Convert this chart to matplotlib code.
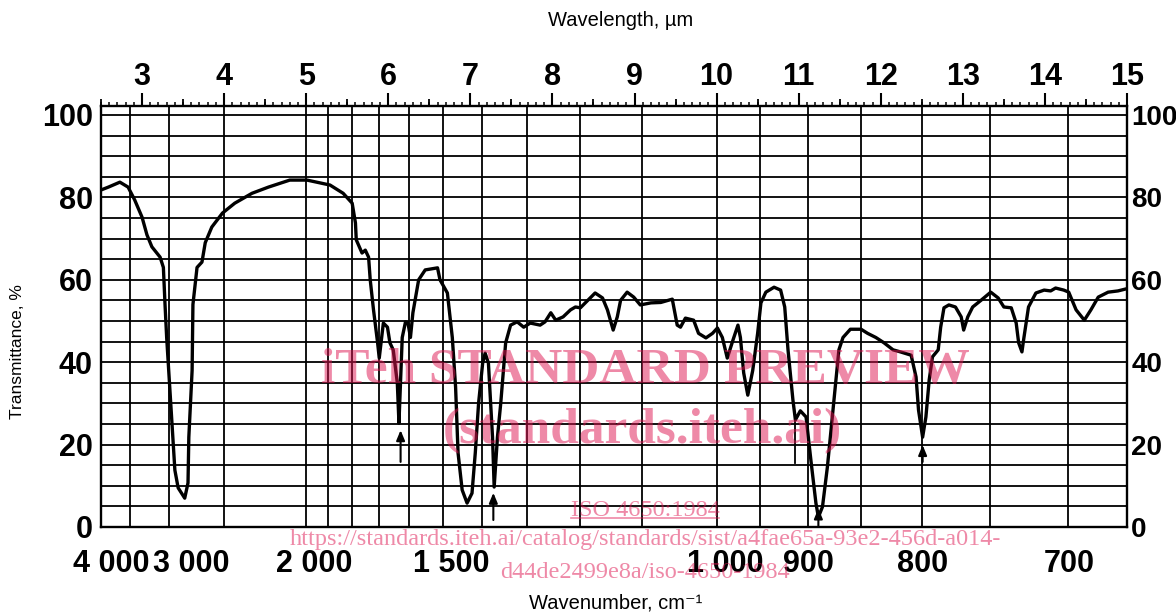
import matplotlib
matplotlib.use("Agg")
import matplotlib.pyplot as plt
from matplotlib.ticker import FixedLocator, MultipleLocator, NullFormatter
from matplotlib.transforms import ScaledTranslation
from matplotlib.lines import Line2D

# ---------------- data ----------------
wavelength_um = [
    2.50, 2.59, 2.73, 2.83, 2.91, 3.00, 3.06, 3.12, 3.22, 3.26, 3.28, 3.30, 3.33, 3.37,
    3.40, 3.44, 3.52, 3.56, 3.57, 3.61, 3.62, 3.67, 3.73, 3.77, 3.85, 3.98, 4.13, 4.34,
    4.54, 4.80, 5.01, 5.29, 5.45, 5.56, 5.60, 5.61, 5.68, 5.72, 5.76, 5.78, 5.82, 5.87,
    5.89, 5.94, 5.99, 6.02, 6.06, 6.11, 6.13, 6.17, 6.21, 6.24, 6.27, 6.30, 6.37, 6.45,
    6.60, 6.63, 6.72, 6.78, 6.82, 6.85, 6.90, 6.96, 7.02, 7.06, 7.10, 7.15, 7.18, 7.22,
    7.27, 7.29, 7.33, 7.37, 7.43, 7.49, 7.57, 7.65, 7.73, 7.85, 7.91, 7.98, 8.04, 8.13,
    8.22, 8.28, 8.34, 8.43, 8.52, 8.61, 8.67, 8.74, 8.79, 8.83, 8.91, 8.99, 9.07, 9.20,
    9.32, 9.46, 9.52, 9.56, 9.62, 9.72, 9.78, 9.87, 9.95, 10.01, 10.07, 10.13, 10.20,
    10.26, 10.29, 10.33, 10.38, 10.44, 10.50, 10.54, 10.60, 10.70, 10.78, 10.83, 10.87,
    10.93, 10.96, 11.02, 11.09, 11.15, 11.21, 11.24, 11.29, 11.35, 11.41, 11.45, 11.49,
    11.54, 11.63, 11.76, 11.84, 11.94, 12.04, 12.15, 12.24, 12.37, 12.43, 12.46, 12.51,
    12.55, 12.59, 12.63, 12.70, 12.73, 12.77, 12.83, 12.91, 12.98, 13.01, 13.06, 13.12,
    13.22, 13.34, 13.43, 13.50, 13.59, 13.65, 13.68, 13.72, 13.74, 13.80, 13.89, 13.99,
    14.07, 14.13, 14.23, 14.29, 14.38, 14.48, 14.56, 14.65, 14.77, 14.89, 14.99,
]
transmittance = [
    81.8, 82.5, 83.7, 82.5, 79.4, 75.2, 70.9, 68.0, 65.5, 63.0, 54.0, 46.0, 36.4, 23.5,
    13.8, 9.5, 7.0, 10.7, 21.8, 38.0, 54.0, 63.0, 64.3, 69.0, 72.8, 76.2, 78.6, 81.0,
    82.5, 84.2, 84.2, 83.0, 81.0, 78.6, 73.8, 69.7, 66.5, 67.2, 65.5, 60.0, 52.7, 44.7,
    41.0, 49.5, 48.5, 44.7, 43.0, 35.0, 25.2, 46.0, 49.8, 49.5, 46.0, 52.0, 60.0, 62.4,
    62.9, 60.0, 56.8, 46.0, 34.0, 18.0, 9.0, 5.8, 8.2, 18.0, 30.0, 39.8, 42.2, 39.8,
    21.8, 9.7, 21.8, 30.0, 44.7, 49.0, 49.8, 48.5, 49.5, 49.0, 49.8, 52.0, 50.2, 51.0,
    52.7, 53.4, 53.2, 55.0, 56.8, 55.6, 52.7, 47.8, 51.0, 55.0, 57.0, 55.8, 53.9, 54.4,
    54.5, 55.3, 49.0, 48.5, 50.7, 50.2, 47.0, 45.9, 47.0, 48.3, 46.0, 41.0, 45.4,
    49.0, 46.0, 37.4, 32.0, 38.0, 47.0, 54.4, 57.0, 58.2, 57.5, 53.4, 43.0,
    30.8, 26.0, 28.2, 26.7, 16.0, 5.8, 2.4, 4.9, 14.6, 26.7, 35.0, 43.0,
    46.0, 48.0, 48.0, 47.0, 46.0, 44.7, 43.0, 42.5, 41.7, 36.4, 28.4, 21.8,
    26.7, 35.7, 41.3, 43.0, 48.5, 53.2, 53.9, 53.4, 51.0, 47.8, 51.0, 53.4,
    55.0, 57.0, 55.6, 53.4, 53.2, 49.5, 44.7, 42.5, 45.4, 53.4, 56.8, 57.5,
    57.3, 58.0, 57.5, 57.0, 52.7, 50.2, 52.7, 55.8, 57.0, 57.3, 57.8,
]

grid_wavenumbers = [3500, 3000, 2500, 2000, 1900, 1800, 1700, 1600, 1500, 1400, 1300,
                    1200, 1100, 1000, 950, 900, 850, 800, 750, 700]
grid_transmittance = list(range(5, 101, 5))
wavenumber_ticks = [4000, 3000, 2000, 1500, 1000, 900, 800, 700]
wavenumber_labels = ["4 000", "3 000", "2 000", "1 500", "1 000", "900", "800", "700"]
wavelength_ticks = list(range(3, 16))
wavelength_half_ticks = [2.5 + i for i in range(13)]
transmittance_ticks = [0, 20, 40, 60, 80, 100]

# marked bands (arrows): wavelength, tail T, head T
arrow_wl = [6.15, 7.28, 11.24, 12.51]
arrow_tail = [15.8, 1.7, 0.3, 15.8]
arrow_head = [23.5, 8.3, 4.5, 19.9]
mark_wl = [10.95]
mark_low = [15.5]
mark_high = [26.7]

# ---------------- styling ----------------
W, H = 1176, 615
plt.rcParams["font.family"] = ["Liberation Sans", "DejaVu Sans"]
plt.rcParams["font.weight"] = "bold"
LABEL_FONT = ["Liberation Sans", "DejaVu Sans"]
SERIF = ["Liberation Serif", "DejaVu Serif"]
DIGIT_SIZE = 22

fig = plt.figure(figsize=(W / 100, H / 100), dpi=100)
ax = fig.add_axes([101 / W, 88 / H, 1026 / W, 421 / H])
ax.set_xlim(2.5, 15.0)
ax.set_ylim(0, 421 / 4.12)

for wn in grid_wavenumbers:
    ax.axvline(1e4 / wn, color="black", lw=1.3, zorder=1)
for t in grid_transmittance:
    ax.axhline(t, color="black", lw=1.3, zorder=1)

for s in ax.spines.values():
    s.set_linewidth(1.7)

ax.plot(wavelength_um, transmittance, color="black", lw=2.4, zorder=3,
        solid_joinstyle="round", solid_capstyle="round")

for wl, t0, t1 in zip(arrow_wl, arrow_tail, arrow_head):
    ax.annotate("", xy=(wl, t1), xytext=(wl, t0),
                arrowprops=dict(arrowstyle="-|>,head_length=0.6,head_width=0.25",
                                color="black", lw=1.5, shrinkA=0, shrinkB=0),
                zorder=4)
for wl, a, b in zip(mark_wl, mark_low, mark_high):
    ax.plot([wl, wl], [a, b], color="black", lw=1.3, zorder=4)

# left/right transmittance labels
ax.set_yticks(transmittance_ticks)
ax.set_yticklabels([str(v) for v in transmittance_ticks])
ax.tick_params(axis="y", which="both", length=0, left=True, right=True,
               labelleft=True, labelright=True, labelsize=DIGIT_SIZE, pad=6)
for tk in ax.yaxis.get_major_ticks():
    tk.label2.set_fontsize(DIGIT_SIZE - 2)
    tk.label2.set_transform(tk.label2.get_transform()
                            + ScaledTranslation(-4 / 100, 0, fig.dpi_scale_trans))

# bottom wavenumber labels
ax.set_xticks([1e4 / w for w in wavenumber_ticks])
ax.set_xticklabels(wavenumber_labels)
ax.tick_params(axis="x", which="both", length=0, top=False, labelsize=DIGIT_SIZE, pad=16)
label_dx = [10, 22, 8, 8, 9, 1, 1, 1]
for lab, dx in zip(ax.get_xticklabels(), label_dx):
    lab.set_transform(lab.get_transform() + ScaledTranslation(dx / 100, 0, fig.dpi_scale_trans))

# top wavelength scale
ax_top = ax.twiny()
ax_top.set_xlim(ax.get_xlim())
ax_top.set_frame_on(False)
ax_top.xaxis.set_major_locator(FixedLocator(wavelength_ticks))
ax_top.set_xticklabels([str(v) for v in wavelength_ticks])
ax_top.xaxis.set_minor_locator(MultipleLocator(0.1))
ax_top.tick_params(axis="x", which="major", direction="out", length=9.4, width=1.5,
                   labelsize=DIGIT_SIZE, pad=0.5)
ax_top.tick_params(axis="x", which="minor", direction="out", length=2.9, width=1.1)

ax_mid = ax.twiny()
ax_mid.set_xlim(ax.get_xlim())
ax_mid.set_frame_on(False)
ax_mid.xaxis.set_major_locator(FixedLocator(wavelength_half_ticks))
ax_mid.xaxis.set_major_formatter(NullFormatter())
ax_mid.xaxis.set_minor_locator(FixedLocator([]))
ax_mid.tick_params(axis="x", which="major", direction="out", length=5, width=1.3)

# axis titles
fig.text(621 / W, 1 - 20 / H, "Wavelength, µm", ha="center", va="center",
         fontsize=14.5, family=LABEL_FONT, weight="normal")
fig.text(616 / W, 1 - 603 / H, "Wavenumber, cm\u207b\u00b9", ha="center", va="center",
         fontsize=14.5, family=LABEL_FONT, weight="normal")
fig.text(18 / W, 1 - 352 / H, "Transmittance, %", ha="center", va="center",
         rotation=90, fontsize=12.5, family=LABEL_FONT, weight="normal")

# watermark
wm = dict(color="#de1450", alpha=0.5, ha="center", va="center", family=SERIF, zorder=10)
fig.text(645 / W, 1 - 371 / H, "iTeh STANDARD PREVIEW", fontsize=37, weight="bold", **wm)
fig.text(642 / W, 1 - 431 / H, "(standards.iteh.ai)", fontsize=37, weight="bold", **wm)
iso = fig.text(645 / W, 1 - 510 / H, "ISO 4650:1984", fontsize=17.5, weight="normal", **wm)
fig.text(645 / W, 1 - 540 / H,
         "https://standards.iteh.ai/catalog/standards/sist/a4fae65a-93e2-456d-a014-",
         fontsize=17.5, weight="normal", **wm)
fig.text(645 / W, 1 - 572 / H, "d44de2499e8a/iso-4650-1984", fontsize=17.5,
         weight="normal", **wm)

fig.canvas.draw()
bb = iso.get_window_extent()
fig.add_artist(Line2D([bb.x0 / W, bb.x1 / W], [(bb.y0 + 3) / H, (bb.y0 + 3) / H],
                      transform=fig.transFigure, color="#de1450", alpha=0.5, lw=1.2))

fig.savefig("out.png", dpi=100)
